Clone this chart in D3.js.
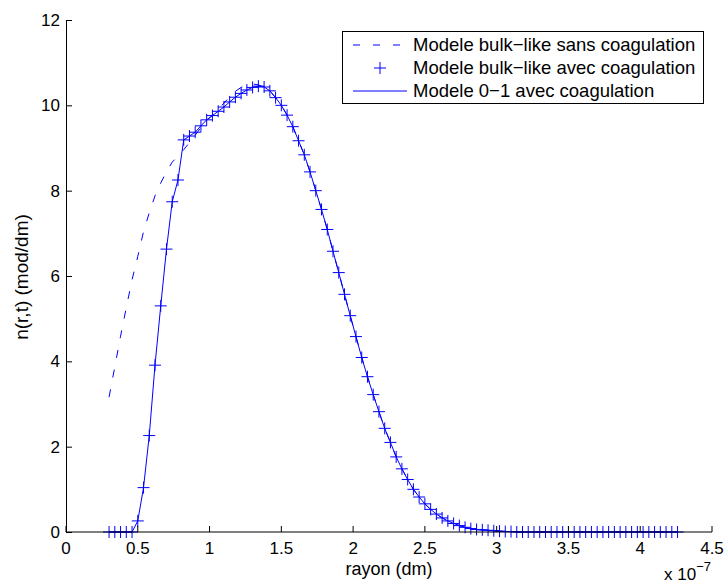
<!DOCTYPE html>
<html>
<head>
<meta charset="utf-8">
<script src="https://cdn.jsdelivr.net/npm/d3@7"></script>
<style>
  body { margin: 0; background: #fff; }
  svg text { font-family: "Liberation Sans", Arial, Helvetica, sans-serif; fill: #000; }
</style>
</head>
<body>
<svg id="distribution"></svg>
<script>
// rayon en unites de 1e-7 dm
const rayon = [0.30, 0.34, 0.38, 0.42, 0.46, 0.50, 0.54, 0.58, 0.62, 0.66,
  0.70, 0.74, 0.78, 0.82, 0.86, 0.90, 0.94, 0.98, 1.02, 1.06,
  1.10, 1.14, 1.18, 1.22, 1.26, 1.30, 1.34, 1.38, 1.42, 1.46,
  1.50, 1.54, 1.58, 1.62, 1.66, 1.70, 1.74, 1.78, 1.82, 1.86,
  1.90, 1.94, 1.98, 2.02, 2.06, 2.10, 2.14, 2.18, 2.22, 2.26,
  2.30, 2.34, 2.38, 2.42, 2.46, 2.50, 2.54, 2.58, 2.62, 2.66,
  2.70, 2.74, 2.78, 2.82, 2.86, 2.90, 2.94, 2.98, 3.02, 3.06,
  3.10, 3.14, 3.18, 3.22, 3.26, 3.30, 3.34, 3.38, 3.42, 3.46,
  3.50, 3.54, 3.58, 3.62, 3.66, 3.70, 3.74, 3.78, 3.82, 3.86,
  3.90, 3.94, 3.98, 4.02, 4.06, 4.10, 4.14, 4.18, 4.22, 4.26];

const nSansCoag = [3.16, 3.87, 4.59, 5.26, 5.91, 6.46, 7.04, 7.48, 7.88, 8.18,
  8.44, 8.67, 8.81, 8.96, 9.13, 9.30, 9.48, 9.64, 9.77, 9.92,
  10.05, 10.20, 10.33, 10.42, 10.48, 10.50, 10.48, 10.43, 10.34, 10.18,
  10.00, 9.77, 9.50, 9.17, 8.84, 8.44, 8.00, 7.56, 7.09, 6.58,
  6.08, 5.57, 5.07, 4.58, 4.09, 3.64, 3.22, 2.82, 2.43, 2.10,
  1.76, 1.48, 1.23, 1.00, 0.82, 0.66, 0.53, 0.42, 0.33, 0.26,
  0.20, 0.15, 0.11, 0.08, 0.06, 0.05, 0.04, 0.03, 0.02, 0.01,
  0.01, 0, 0, 0, 0, 0, 0, 0, 0, 0,
  0, 0, 0, 0, 0, 0, 0, 0, 0, 0,
  0, 0, 0, 0, 0, 0, 0, 0, 0, 0];

const nAvecCoag = [0, 0, 0, 0, 0, 0.26, 1.04, 2.26, 3.91, 5.30,
  6.63, 7.74, 8.25, 9.19, 9.28, 9.37, 9.52, 9.66, 9.76, 9.86,
  9.96, 10.08, 10.19, 10.28, 10.36, 10.42, 10.45, 10.43, 10.34, 10.18,
  10.00, 9.77, 9.50, 9.17, 8.84, 8.44, 8.00, 7.56, 7.09, 6.58,
  6.08, 5.57, 5.07, 4.58, 4.09, 3.64, 3.22, 2.82, 2.43, 2.10,
  1.76, 1.48, 1.23, 1.00, 0.82, 0.66, 0.53, 0.42, 0.33, 0.26,
  0.20, 0.15, 0.11, 0.08, 0.06, 0.05, 0.04, 0.03, 0.02, 0.01,
  0.01, 0, 0, 0, 0, 0, 0, 0, 0, 0,
  0, 0, 0, 0, 0, 0, 0, 0, 0, 0,
  0, 0, 0, 0, 0, 0, 0, 0, 0, 0];

const n01AvecCoag = [0, 0, 0, 0, 0, 0.26, 1.04, 2.26, 3.91, 5.30,
  6.63, 7.74, 8.25, 9.19, 9.28, 9.37, 9.52, 9.66, 9.76, 9.86,
  9.96, 10.08, 10.19, 10.28, 10.36, 10.42, 10.45, 10.43, 10.34, 10.18,
  10.00, 9.77, 9.50, 9.17, 8.84, 8.44, 8.00, 7.56, 7.09, 6.58,
  6.08, 5.57, 5.07, 4.58, 4.09, 3.64, 3.22, 2.82, 2.43, 2.10,
  1.76, 1.48, 1.23, 1.00, 0.82, 0.66, 0.53, 0.42, 0.33, 0.26,
  0.20, 0.15, 0.11, 0.08, 0.06, 0.05, 0.04, 0.03, 0.02, 0.01,
  0.01, 0, 0, 0, 0, 0, 0, 0, 0, 0,
  0, 0, 0, 0, 0, 0, 0, 0, 0, 0,
  0, 0, 0, 0, 0, 0, 0, 0, 0, 0];

const xTicks = [0, 0.5, 1, 1.5, 2, 2.5, 3, 3.5, 4, 4.5];
const xTickLabels = ["0", "0.5", "1", "1.5", "2", "2.5", "3", "3.5", "4", "4.5"];
const yTicks = [0, 2, 4, 6, 8, 10, 12];
const legendLabels = [
  "Modele bulk\u2212like sans coagulation",
  "Modele bulk\u2212like avec coagulation",
  "Modele 0\u22121 avec coagulation"
];

class DistributionChart {
  static width = 728;
  static height = 586;
  static margin = { top: 20, right: 16, bottom: 54, left: 66 };
  static blue = "#0000ff";

  static createChart() {
    let m = this.margin;
    let svg = d3.select("#distribution")
      .attr("width", this.width)
      .attr("height", this.height)
      .style("display", "block");

    svg.append("rect").attr("width", this.width).attr("height", this.height).attr("fill", "#fff");

    let x = d3.scaleLinear().domain([0, 4.5]).range([m.left, this.width - m.right]);
    let y = d3.scaleLinear().domain([0, 12]).range([this.height - m.bottom, m.top]);

    let pts = rayon.map((r, i) => ({ r: r, sans: nSansCoag[i], avec: nAvecCoag[i], zu: n01AvecCoag[i] }));

    // courbe bulk-like sans coagulation (tirets)
    svg.append("path")
      .datum(pts)
      .attr("fill", "none")
      .attr("stroke", this.blue)
      .attr("stroke-width", 1)
      .attr("stroke-dasharray", "8,12")
      .attr("d", d3.line().x((d) => x(d.r)).y((d) => y(d.sans)));

    // modele 0-1 (trait plein)
    svg.append("path")
      .datum(pts)
      .attr("fill", "none")
      .attr("stroke", this.blue)
      .attr("stroke-width", 1)
      .attr("d", d3.line().x((d) => x(d.r)).y((d) => y(d.zu)));

    // bulk-like avec coagulation (+)
    svg.append("g")
      .selectAll("path")
      .data(pts)
      .enter()
      .append("path")
      .attr("transform", (d) => "translate(" + x(d.r) + "," + y(d.avec) + ")")
      .attr("d", "M-6,0H6M0,-6V6")
      .attr("stroke", this.blue)
      .attr("stroke-width", 1);

    // axe X
    let xAxis = d3.axisBottom(x)
      .tickValues(xTicks)
      .tickFormat((d, i) => xTickLabels[i])
      .tickSizeInner(-6)
      .tickSizeOuter(0)
      .tickPadding(10)
      .offset(0);

    let gx = svg.append("g")
      .attr("transform", "translate(0," + y(0) + ")")
      .call(xAxis);
    gx.selectAll("text").attr("font-size", "17px").attr("fill", "#000");

    // axe Y
    let yAxis = d3.axisLeft(y)
      .tickValues(yTicks)
      .tickSizeInner(-6)
      .tickSizeOuter(0)
      .tickPadding(6);

    let gy = svg.append("g")
      .attr("transform", "translate(" + m.left + ",0)")
      .call(yAxis);
    gy.selectAll("text").attr("font-size", "17px").attr("fill", "#000");

    svg.selectAll(".domain").attr("stroke", "#000");
    svg.selectAll(".tick line").attr("stroke", "#000");

    svg.append("text")
      .attr("x", (x(0) + x(4.5)) / 2)
      .attr("y", 575)
      .attr("text-anchor", "middle")
      .attr("font-size", "18px")
      .text("rayon (dm)");

    svg.append("text")
      .attr("transform", "translate(28," + (y(6) + 1) + ") rotate(-90)")
      .attr("text-anchor", "middle")
      .attr("font-size", "19px")
      .text("n(r,t) (mod/dm)");

    let expo = svg.append("text")
      .attr("x", 664)
      .attr("y", 580)
      .attr("font-size", "17px");
    expo.append("tspan").text("x 10");
    expo.append("tspan").attr("dy", -9).attr("font-size", "13px").text("\u22127");

    this.createLegend(svg);
  }

  static createLegend(svg) {
    let lg = svg.append("g").attr("transform", "translate(342,31)");
    lg.append("rect")
      .attr("x", 0.5).attr("y", 0.5)
      .attr("width", 361).attr("height", 72)
      .attr("fill", "#fff")
      .attr("stroke", "#000")
      .attr("stroke-width", 1);

    let rows = lg.selectAll(".row")
      .data(legendLabels)
      .enter()
      .append("g")
      .attr("class", "row")
      .attr("transform", (d, i) => "translate(0," + (14 + i * 23) + ")");

    rows.append("text")
      .attr("x", 71)
      .attr("dy", "0.35em")
      .attr("font-size", "18.5px")
      .text((d) => d);

    rows.filter((d, i) => i === 0).append("line")
      .attr("x1", 11).attr("x2", 65)
      .attr("stroke", this.blue)
      .attr("stroke-dasharray", "7,13");

    rows.filter((d, i) => i === 1).append("path")
      .attr("transform", "translate(38,0)")
      .attr("d", "M-6,0H6M0,-6V6")
      .attr("stroke", this.blue);

    rows.filter((d, i) => i === 2).append("line")
      .attr("x1", 11).attr("x2", 65)
      .attr("stroke", this.blue);
  }
}

DistributionChart.createChart();
</script>
</body>
</html>
